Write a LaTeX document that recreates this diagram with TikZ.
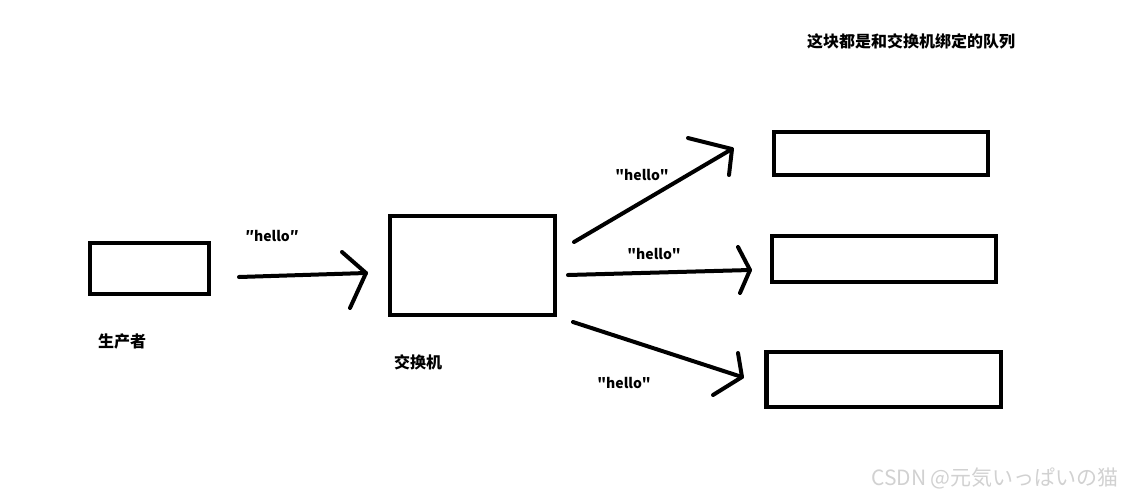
\documentclass[tikz,border=0pt]{standalone}
\usepackage{fontspec}
\usepackage{tikz}
\usetikzlibrary{positioning}
\usepackage{xcolor}
\newfontfamily\cjk{Noto Sans CJK SC}
\newfontfamily\cjkjp{Noto Sans CJK JP}

\begin{document}
\begin{tikzpicture}[x=1pt, y=-1pt,
    every node/.style={font=\cjk\bfseries\fontsize{14}{16}\selectfont},
    zh/.style={font=\cjk\bfseries\fontsize{16}{18}\selectfont},
    box/.style={draw, line width=4.4pt, inner sep=0pt},
    stroke/.style={line width=4pt, line cap=round, line join=round}]
  \useasboundingbox (0,0) rectangle (1131,499);
  % boxes
  \node[box, minimum width=119pt, minimum height=51pt] (prod) at (149.5,268.5) {};
  \node[box, minimum width=165pt, minimum height=99pt] (xchg) at (472.5,265.5) {};
  \node[box, minimum width=214pt, minimum height=43pt] (qa) at (881,153.5) {};
  \node[box, minimum width=224pt, minimum height=46pt] (qb) at (884,259) {};
  \node[box, minimum width=234.5pt, minimum height=55pt] (qc) at (883.7,379.5) {};
  % labels
  \node[zh] (lprod) at (122,341) {生产者};
  \node[zh] (lxchg) at (418,362) {交换机};
  \node[zh] (lq) at (911,41) {这块都是和交换机绑定的队列};
  \node (h0) at (272,236) {″hello″};
  \node (h1) at (642,175) {"hello"};
  \node (h2) at (654,254) {"hello"};
  \node (h3) at (624,383) {"hello"};
  % arrows
  \coordinate (s0) at (239,277);
  \coordinate (t0) at (366,273);
  \draw[stroke] (s0) -- (t0);
  \draw[stroke] (342,252) -- (t0) -- (350,308);
  \coordinate (s1) at (574,242);
  \coordinate (t1) at (732,149);
  \draw[stroke] (s1) -- (t1);
  \draw[stroke] (688,138) -- (t1) -- (729,175);
  \coordinate (s2) at (568,275);
  \coordinate (t2) at (750,270);
  \draw[stroke] (s2) -- (t2);
  \draw[stroke] (738,247) -- (t2) -- (740,293);
  \coordinate (s3) at (573,322);
  \coordinate (t3) at (742,377);
  \draw[stroke] (s3) -- (t3);
  \draw[stroke] (738,353) -- (t3) -- (713,395);
  % watermark
  \node[font=\cjkjp\fontsize{21}{24}\selectfont, text=black!18] (wm) at (995,478) {CSDN @元気いっぱいの猫};
\end{tikzpicture}
\end{document}
